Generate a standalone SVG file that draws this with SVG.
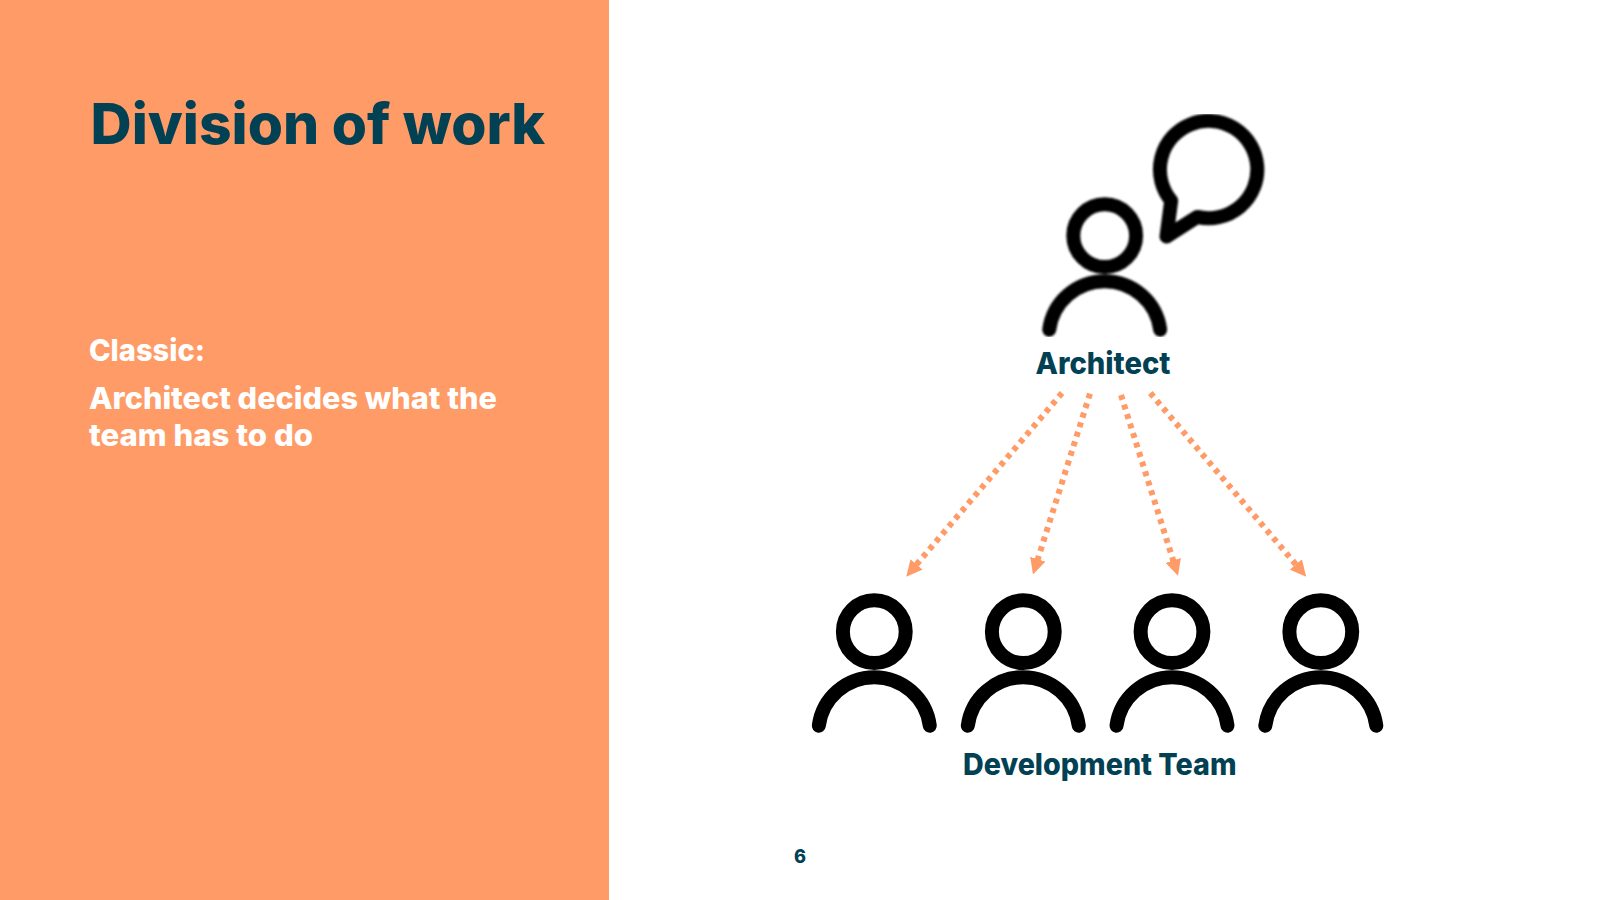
<svg xmlns="http://www.w3.org/2000/svg" width="1600" height="900" viewBox="0 0 1600 900">
<style>
text{font-family:"Inter","Liberation Sans",sans-serif;font-weight:800}
.navy{fill:#024154}
.white{fill:#fff}
.icon{fill:none;stroke:#000;stroke-width:14;stroke-linecap:round;stroke-linejoin:round}
.conn{fill:none;stroke:#FF9B66;stroke-width:6;stroke-dasharray:5 5}
</style>
<defs>
<filter id="soft" x="-10%" y="-10%" width="120%" height="120%"><feGaussianBlur stdDeviation="0.9"/></filter>
<clipPath id="cut"><rect x="1030" y="114" width="250" height="223"/></clipPath>
<marker id="arrow" viewBox="0 0 16 16" markerUnits="userSpaceOnUse" markerWidth="16" markerHeight="16" refX="4" refY="8" orient="auto"><path d="M0 0L16 8L0 16Z" fill="#FF9B66"/></marker>
<g id="person"><circle cx="0" cy="0" r="31.4" class="icon"/><path d="M-55.5 94A56 56 0 0 1 55.5 94" class="icon"/></g>
</defs>
<rect width="1600" height="900" fill="#fff"/>
<rect id="panel" width="609" height="900" fill="#FF9B66"/>
<text id="title" class="navy" x="90.5" y="144" font-size="56" textLength="454.5" lengthAdjust="spacingAndGlyphs">Division of work</text>
<text class="white" x="89" y="361" font-size="30" textLength="116" lengthAdjust="spacingAndGlyphs">Classic:</text>
<text class="white" x="89" y="409" font-size="30" textLength="408" lengthAdjust="spacingAndGlyphs">Architect decides what the</text>
<text class="white" x="89" y="445.5" font-size="30" textLength="224" lengthAdjust="spacingAndGlyphs">team has to do</text>
<g id="architect">
<g clip-path="url(#cut)"><g filter="url(#soft)">
<use href="#person" x="1104.7" y="235.7"/>
<path d="M1171.2 200.7L1166.5 236.5L1197.3 216.9A48.7 48.7 0 1 0 1171.2 200.7Z" class="icon"/>
</g></g>
<text class="navy" x="1035.5" y="374" font-size="30" textLength="135" lengthAdjust="spacingAndGlyphs">Architect</text>
</g>
<g id="connectors">
<path d="M1062 393L914 567.5" class="conn" marker-end="url(#arrow)"/>
<path d="M1090 393.7L1036.6 563" class="conn" marker-end="url(#arrow)"/>
<path d="M1121 395L1174.4 564.3" class="conn" marker-end="url(#arrow)"/>
<path d="M1150.3 393L1298.4 567.5" class="conn" marker-end="url(#arrow)"/>
</g>
<g id="dev1"><use href="#person" x="874.3" y="631.7"/></g>
<g id="dev2"><use href="#person" x="1023.3" y="631.7"/></g>
<g id="dev3"><use href="#person" x="1172" y="631.7"/></g>
<g id="dev4"><use href="#person" x="1320.8" y="631.7"/></g>
<text id="team" class="navy" x="963" y="774.5" font-size="30" textLength="273.5" lengthAdjust="spacingAndGlyphs">Development Team</text>
<text id="page" class="navy" x="794" y="863.3" font-size="19" textLength="12" lengthAdjust="spacingAndGlyphs">6</text>
</svg>
